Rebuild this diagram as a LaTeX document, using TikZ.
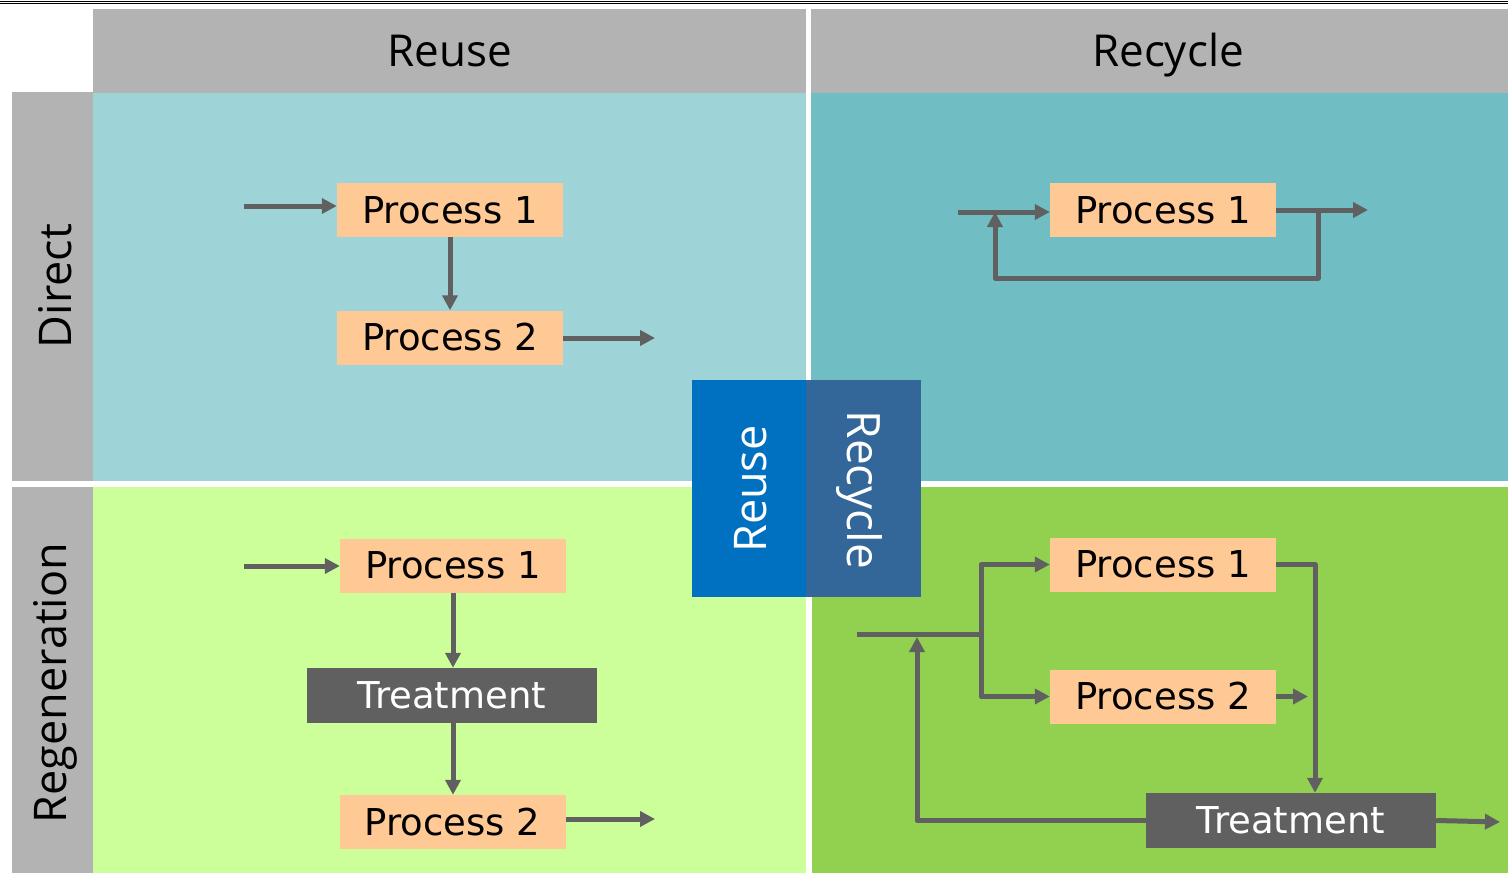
\documentclass[tikz,border=0pt]{standalone}
\usepackage{fontspec}
\setmainfont{DejaVu Sans}
\newfontfamily\hdr{Open Sans}
\usetikzlibrary{arrows.meta}
\definecolor{hdrgray}{HTML}{B3B3B3}
\definecolor{tlc}{HTML}{9ED3D7}
\definecolor{trc}{HTML}{70BDC4}
\definecolor{blc}{HTML}{CCFF99}
\definecolor{brc}{HTML}{92D050}
\definecolor{reuseblue}{HTML}{0070C0}
\definecolor{recycleblue}{HTML}{336699}
\definecolor{procc}{HTML}{FFC995}
\definecolor{darkg}{HTML}{606060}
\tikzset{
  procbox/.style={fill=procc, inner sep=0pt, minimum width=226pt, minimum height=54pt, font=\fontsize{37}{40}\selectfont, text=black},
  treatbox/.style={fill=darkg, inner sep=0pt, minimum width=290pt, minimum height=55pt, font=\fontsize{37}{40}\selectfont, text=white},
  hdrtext/.style={font=\hdr\fontsize{44}{48}\selectfont, inner sep=0pt},
  sidetext/.style={font=\hdr\fontsize{45}{48}\selectfont, inner sep=0pt},
  arr/.style={draw=darkg, line width=5pt, line join=round, -{Triangle[length=15pt,width=15pt]}},
  ln/.style={draw=darkg, line width=5pt, line join=round},
}
\begin{document}
\begin{tikzpicture}[x=1pt,y=-1pt]
\useasboundingbox (0,0) rectangle (1508,873);
\fill[white] (0,0) rectangle (1508,873);
% top double rule
\draw[line width=0.8pt] (0,1.7) -- (1508,1.7);
\draw[line width=0.8pt] (0,3.8) -- (1508,3.8);
% headers
\fill[hdrgray] (93,9) rectangle (806,93);
\fill[hdrgray] (811,9) rectangle (1508,93);
\fill[hdrgray] (12,92) rectangle (93,481);
\fill[hdrgray] (12,487) rectangle (93,873);
% quadrants
\fill[tlc] (93,93) rectangle (806,481);
\fill[trc] (811,93) rectangle (1508,481);
\fill[blc] (93,487) rectangle (806,873);
\fill[brc] (812,487) rectangle (1508,873);
% header texts
\node[hdrtext, anchor=base] (hreuse) at (450,66) {Reuse};
\node[hdrtext, anchor=base] (hrecycle) at (1168,66) {Recycle};
\node[sidetext, rotate=90] (hdirect) at (55,286) {Direct};
\node[sidetext, rotate=90] (hregen) at (55,683) {Regeneration};
% center boxes
\fill[reuseblue] (692,380) rectangle (806,597);
\fill[recycleblue] (806,380) rectangle (921,597);
\node[sidetext, rotate=90, text=white] (creuse) at (751,489) {Reuse};
\node[sidetext, font=\hdr\fontsize{46}{48}\selectfont, rotate=-90, text=white] (crecycle) at (859,490) {Recycle};
% TL
\node[procbox] (tlp1) at (450,210) {Process 1};
\node[procbox] (tlp2) at (450,337.5) {Process 2};
\coordinate (tlin) at (244,206);
\coordinate (tlout) at (655,338);
\draw[arr] (tlin) -- (tlin -| tlp1.west);
\draw[arr] (tlp1.south) -- (tlp2.north);
\draw[arr] (tlp2.east |- tlout) -- (tlout);
% TR
\node[procbox] (trp1) at (1163,210) {Process 1};
\coordinate (trin) at (958,212);
\coordinate (trout) at (1368,210);
\coordinate (trj) at (1318,210);
\coordinate (trl1) at (1318,278);
\coordinate (trl2) at (995,278);
\coordinate (trl3) at (995,212);
\draw[arr] (trin) -- (trin -| trp1.west);
\draw[arr] (trp1.east |- trout) -- (trout);
\draw[arr] (trj) -- (trl1) -- (trl2) -- (trl3);
% BL
\node[procbox] (blp1) at (453,565.5) {Process 1};
\node[treatbox] (blt) at (452,695.5) {Treatment};
\node[procbox] (blp2) at (452.5,822) {Process 2};
\coordinate (blin) at (244,566);
\coordinate (blout) at (655,819);
\draw[arr] (blin) -- (blin -| blp1.west);
\draw[arr] (blp1.south) -- (blp1.south |- blt.north);
\draw[arr] (blp1.south |- blt.south) -- (blp1.south |- blp2.north);
\draw[arr] (blp2.east |- blout) -- (blout);
% BR
\node[procbox] (brp1) at (1163,564.5) {Process 1};
\node[procbox] (brp2) at (1163,696.5) {Process 2};
\node[treatbox] (brt) at (1291,820.5) {Treatment};
\coordinate (brin) at (857,634);
\coordinate (brj) at (981,634);
\coordinate (brk) at (1315,564.5);
\coordinate (brp2o) at (1308,696.5);
\coordinate (brout) at (1500,822);
\coordinate (brr) at (917,637);
\draw[ln] (brin) -- (brj);
\draw[arr] (brj) |- (brp1.west);
\draw[arr] (brj) |- (brp2.west);
\draw[arr] (brp1.east) -- (brk) -- (brk |- brt.north);
\draw[arr] (brp2.east) -- (brp2o);
\draw[arr] (brt.east) -- (brout);
\draw[arr] (brt.west) -| (brr);
\end{tikzpicture}
\end{document}
